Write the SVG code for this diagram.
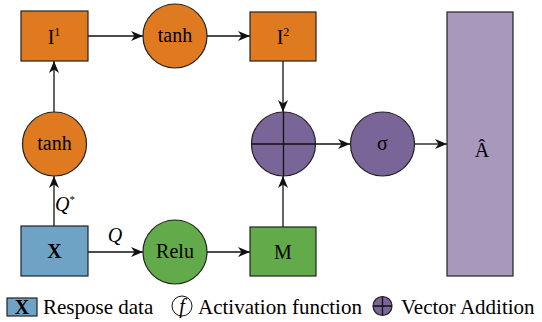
<svg xmlns="http://www.w3.org/2000/svg" width="542" height="322" viewBox="0 0 542 322" font-family="'Liberation Serif', 'DejaVu Serif', serif">
<style>
text{font-size:20px;fill:#000;text-anchor:middle}
.or{fill:#DF7A20;stroke:#222;stroke-width:1.2}
.bl{fill:#6FA3C5;stroke:#222;stroke-width:1.2}
.gr{fill:#62AA4A;stroke:#222;stroke-width:1.2}
.pu{fill:#7A6598;stroke:#222;stroke-width:1.2}
.lp{fill:#A898BC;stroke:#222;stroke-width:1.2}
.ln{stroke:#111;stroke-width:1.3;fill:none}
.cn{stroke:#111;stroke-width:1.3;fill:none;marker-end:url(#ah)}
.lg{text-anchor:start;font-size:21px}
</style>
<defs>
<marker id="ah" viewBox="0 0 12 10" refX="12" refY="5" markerWidth="12" markerHeight="10" markerUnits="userSpaceOnUse" orient="auto">
<path d="M0,0 L12,5 L0,10 L3.5,5 z" fill="#111"/>
</marker>
</defs>
<g id="connectors">
<path class="cn" d="M88,36 H143"/>
<path class="cn" d="M207,36 H250"/>
<path class="cn" d="M54,112 V61"/>
<path class="cn" d="M54,226 V176"/>
<path class="cn" d="M88,252 H143"/>
<path class="cn" d="M207,252 H250"/>
<path class="cn" d="M283,61 V112"/>
<path class="cn" d="M283,227 V176"/>
<path class="cn" d="M315.5,144 H350"/>
<path class="cn" d="M415,144 H447"/>
<text x="65" y="211" font-style="italic">Q<tspan font-size="11" dy="-8" font-style="normal">*</tspan></text>
<text x="115" y="242" font-style="italic">Q</text>
</g>
<g id="I1">
<rect class="or" x="21" y="11" width="67" height="50"/>
<text x="54" y="44">I<tspan font-size="12" dy="-8">1</tspan></text>
</g>
<g id="tanh-top">
<circle class="or" cx="175" cy="36" r="32"/>
<text x="175" y="42">tanh</text>
</g>
<g id="I2">
<rect class="or" x="250" y="12" width="66" height="49"/>
<text x="283" y="44">I<tspan font-size="12" dy="-8">2</tspan></text>
</g>
<g id="tanh-left">
<circle class="or" cx="54.5" cy="144" r="32"/>
<text x="54.5" y="150">tanh</text>
</g>
<g id="X">
<rect class="bl" x="21" y="226" width="67" height="50"/>
<text x="54.5" y="258" font-weight="bold">X</text>
</g>
<g id="Relu">
<circle class="gr" cx="175" cy="252" r="32"/>
<text x="175" y="258">Relu</text>
</g>
<g id="M">
<rect class="gr" x="250" y="227" width="66" height="49"/>
<text x="283" y="259">M</text>
</g>
<g id="add">
<circle class="pu" cx="283.5" cy="144" r="32"/>
<path class="ln" d="M251.5,144 H315.5 M283.5,112 V176"/>
</g>
<g id="sigma">
<circle class="pu" cx="382.5" cy="144" r="32"/>
<text x="382.5" y="150">σ</text>
</g>
<g id="A">
<rect class="lp" x="447" y="12" width="66" height="264"/>
<text x="482" y="157">Â</text>
</g>
<g id="legend">
<rect class="bl" x="7" y="298" width="30" height="18"/>
<text x="22" y="314" font-weight="bold">X</text>
<text class="lg" x="43" y="314">Respose data</text>
<circle cx="182" cy="306" r="10" fill="none" stroke="#111" stroke-width="1"/>
<text x="182" y="313" font-style="italic" font-size="17">f</text>
<text class="lg" x="198" y="314">Activation function</text>
<circle class="pu" cx="382.5" cy="306" r="9.5"/>
<path class="ln" d="M373,306 H392 M382.5,296.5 V315.5"/>
<text class="lg" x="401" y="314">Vector Addition</text>
</g>
</svg>
